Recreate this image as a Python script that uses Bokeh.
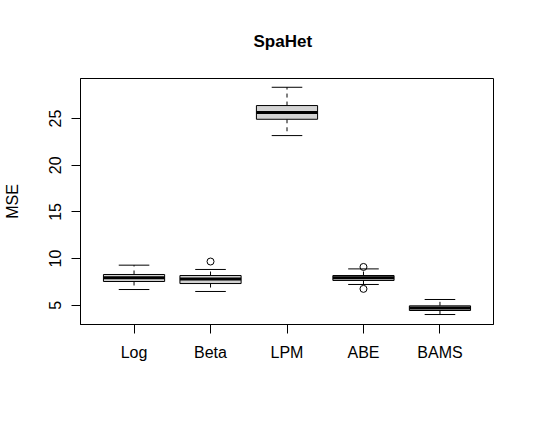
import numpy as np
from bokeh.plotting import figure
from bokeh.models import Range1d, FixedTicker, ColumnDataSource
from bokeh.embed import file_html
from bokeh.resources import INLINE

# ---- data ----
methods = ["Log", "Beta", "LPM", "ABE", "BAMS"]
lower_whisker = [6.68, 6.47, 23.18, 7.22, 4.00]
q1 = [7.54, 7.32, 24.93, 7.65, 4.43]
median = [7.93, 7.82, 25.65, 7.93, 4.71]
q3 = [8.29, 8.18, 26.40, 8.18, 4.93]
upper_whisker = [9.29, 8.83, 28.36, 8.89, 5.61]
outlier_method = ["Beta", "ABE", "ABE"]
outlier_value = [9.68, 9.10, 6.75]
y_ticks = [5, 10, 15, 20, 25]

FONT = "Liberation Sans"
pos = {m: i + 1 for i, m in enumerate(methods)}
x = [pos[m] for m in methods]
box_half = 0.4
cap_half = 0.2

src = ColumnDataSource(dict(
    x=x, q1=q1, q3=q3, med=median, lo=lower_whisker, hi=upper_whisker,
    bl=[v - box_half for v in x], br=[v + box_half for v in x],
    cl=[v - cap_half for v in x], cr=[v + cap_half for v in x],
))

p = figure(width=525, height=414, output_backend="svg", toolbar_location=None,
           x_range=Range1d(0.3, 5.7), y_range=Range1d(2.93, 29.3),
           min_border_left=79, min_border_right=32, min_border_top=78,
           min_border_bottom=90)

p.title.text = "SpaHet"
p.title.align = "left"
p.title.offset = 173
p.title.text_font = FONT
p.title.text_font_size = "17px"
p.title.text_font_style = "bold"
p.title.text_color = "black"
p.title.standoff = 55

p.outline_line_color = "black"
p.outline_line_width = 1
p.xgrid.visible = False
p.ygrid.visible = False
p.background_fill_color = "white"
p.border_fill_color = "white"

# whiskers (dashed)
p.segment(x0="x", y0="q3", x1="x", y1="hi", source=src, line_color="black",
          line_width=1, line_dash="4 4")
p.segment(x0="x", y0="q1", x1="x", y1="lo", source=src, line_color="black",
          line_width=1, line_dash="4 4")
# caps
p.segment(x0="cl", y0="hi", x1="cr", y1="hi", source=src, line_color="black", line_width=1)
p.segment(x0="cl", y0="lo", x1="cr", y1="lo", source=src, line_color="black", line_width=1)
# boxes
p.vbar(x="x", width=2 * box_half, bottom="q1", top="q3", source=src,
       fill_color="#d3d3d3", line_color="black", line_width=1)
# medians
p.segment(x0="bl", y0="med", x1="br", y1="med", source=src, line_color="black",
          line_width=3)
# outliers
p.scatter(x=[pos[m] for m in outlier_method], y=outlier_value, marker="circle",
          size=7, fill_color=None, line_color="black", line_width=1)

# axes
xa = p.xaxis[0]
xa.ticker = FixedTicker(ticks=x)
xa.major_label_overrides = {i: m for i, m in zip(x, methods)}
ya = p.yaxis[0]
ya.ticker = FixedTicker(ticks=y_ticks)
ya.axis_label = "MSE"
ya.major_label_orientation = "vertical"

for ax in (xa, ya):
    ax.axis_line_color = "black"
    ax.major_tick_line_color = "black"
    ax.major_tick_out = 9
    ax.major_tick_in = 0
    ax.minor_tick_line_color = None
    ax.major_label_text_font = FONT
    ax.major_label_text_font_size = "16px"
    ax.major_label_text_color = "black"
    ax.axis_label_text_font = FONT
    ax.axis_label_text_font_size = "16px"
    ax.axis_label_text_font_style = "normal"
    ax.axis_label_text_color = "black"

xa.major_label_standoff = 10
ya.major_label_standoff = 10
ya.axis_label_standoff = 26

open("out.html", "w").write(file_html(p, INLINE))
